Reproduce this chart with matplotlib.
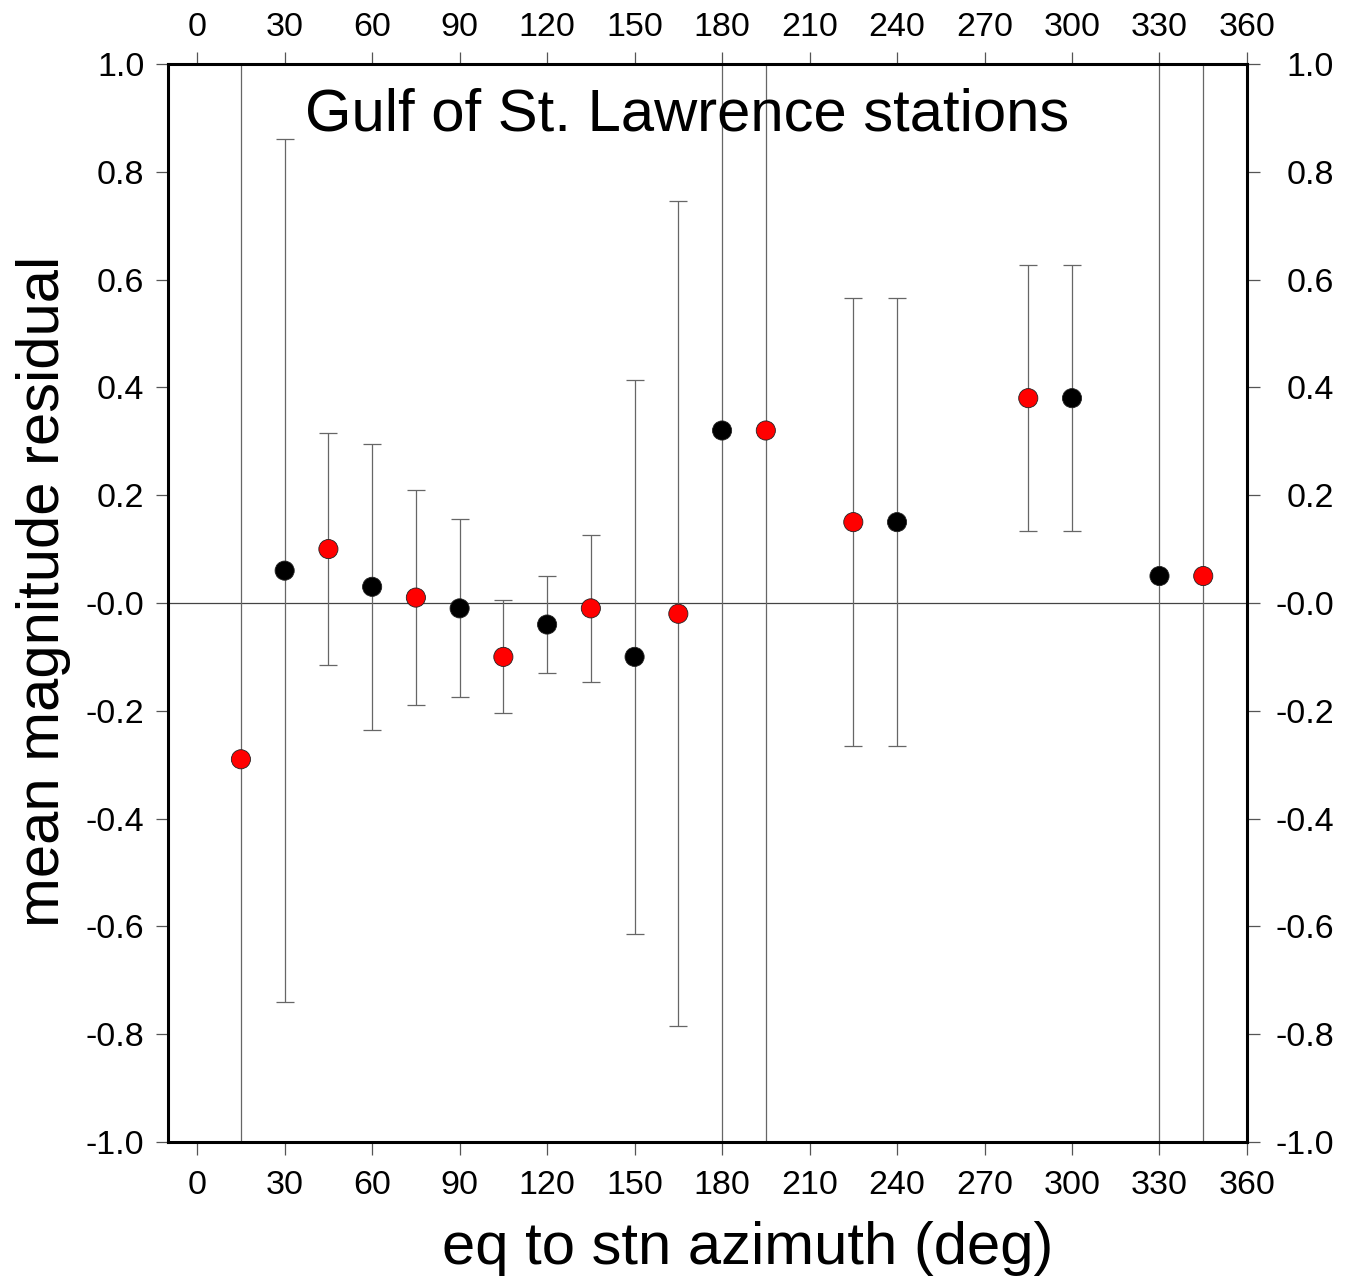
import numpy as np
import matplotlib
matplotlib.use('Agg')
import matplotlib.pyplot as plt
import matplotlib.transforms as mtransforms
from matplotlib.ticker import FixedLocator, FixedFormatter

plt.rcParams['font.family'] = ['Liberation Sans', 'DejaVu Sans']

# mean residual per azimuth bin, with half-width of the error bar
azimuth = [15, 30, 45, 60, 75, 90, 105, 120, 135, 150, 165, 180, 195, 225, 240, 285, 300, 330, 345]
residual = [-0.29, 0.06, 0.10, 0.03, 0.01, -0.01, -0.10, -0.04, -0.01, -0.10, -0.02,
            0.32, 0.32, 0.15, 0.15, 0.38, 0.38, 0.05, 0.05]
err = [1.5, 0.80, 0.215, 0.265, 0.20, 0.165, 0.105, 0.09, 0.137, 0.514, 0.765,
       1.5, 1.5, 0.415, 0.415, 0.247, 0.247, 1.5, 1.5]
colors = ['red', 'black', 'red', 'black', 'red', 'black', 'red', 'black', 'red', 'black', 'red',
          'black', 'red', 'red', 'black', 'red', 'black', 'black', 'red']

xticks = list(range(0, 361, 30))
yticks = [-1.0, -0.8, -0.6, -0.4, -0.2, 0.0, 0.2, 0.4, 0.6, 0.8, 1.0]
ylabels = ['-1.0', '-0.8', '-0.6', '-0.4', '-0.2', '-0.0', '0.2', '0.4', '0.6', '0.8', '1.0']

fig = plt.figure(figsize=(13.56, 12.88), dpi=100)
ax = fig.add_axes([0.1239, 0.1134, 0.7957, 0.8369])

ax.axhline(0, color='#444444', lw=0.9, zorder=1)
ax.errorbar(azimuth, residual, yerr=err, fmt='none', ecolor='#666666',
            elinewidth=0.9, capsize=6.5, capthick=0.9, zorder=2)
ax.scatter(azimuth, residual, s=190, c=colors, edgecolors='#222222', linewidths=0.6, zorder=3)

ax.set_xlim(-10, 360)
ax.set_ylim(-1, 1)

ax.xaxis.set_major_locator(FixedLocator(xticks))
ax.yaxis.set_major_locator(FixedLocator(yticks))
ax.yaxis.set_major_formatter(FixedFormatter(ylabels))

ax.tick_params(axis='both', which='major', direction='out', length=9, width=0.9,
               color='#555555', labelsize=24.5, top=True, right=True,
               labeltop=True, labelright=True)
ax.tick_params(axis='y', pad=8)
ax.tick_params(axis='x', pad=6)

# bottom labels sit a little lower than the top ones
for t in ax.xaxis.get_major_ticks():
    t.label1.set_transform(t.label1.get_transform() +
                           mtransforms.ScaledTranslation(0, -5 / 72, fig.dpi_scale_trans))

for spine in ax.spines.values():
    spine.set_linewidth(2.2)

# right-hand labels are right-aligned like the left ones
shift = mtransforms.ScaledTranslation(62.5 / 72, 0, fig.dpi_scale_trans)
for t in ax.yaxis.get_major_ticks():
    t.label2.set_horizontalalignment('right')
    t.label2.set_transform(ax.get_yaxis_transform(which='tick2') + shift)

ax.text(0.127, 0.978, 'Gulf of St. Lawrence stations', transform=ax.transAxes,
        fontsize=43, ha='left', va='top')

fig.text(0.5516, 0.009, 'eq to stn azimuth (deg)', fontsize=43, ha='center', va='bottom')
fig.text(0.012, 0.541, 'mean magnitude residual', fontsize=43, rotation=90,
         ha='left', va='center')

fig.savefig('out.png', dpi=100, facecolor='white')
